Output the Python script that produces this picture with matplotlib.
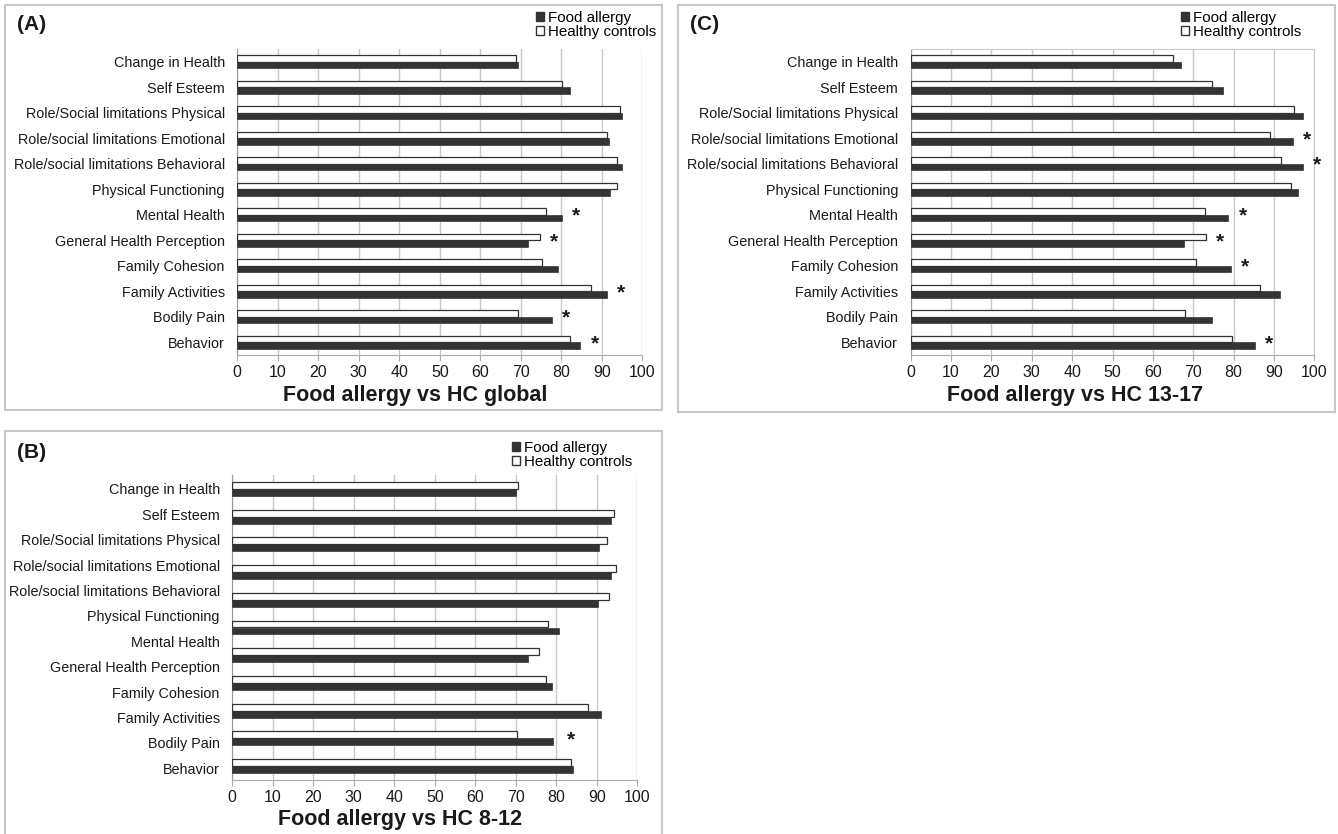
import numpy as np
import matplotlib
matplotlib.use("Agg")
import matplotlib.pyplot as plt
from matplotlib.patches import Patch, Rectangle

plt.rcParams['font.family'] = ['Liberation Sans', 'DejaVu Sans']

# category labels, top to bottom
categories = ["Change in Health", "Self Esteem", "Role/Social limitations Physical",
              "Role/social limitations Emotional", "Role/social limitations Behavioral",
              "Physical Functioning", "Mental Health", "General Health Perception",
              "Family Cohesion", "Family Activities", "Bodily Pain", "Behavior"]

# (A) global
fa_global = [69.2, 82.1, 94.9, 91.8, 94.9, 92.1, 80.1, 71.7, 79.3, 91.2, 77.7, 84.7]
hc_global = [68.7, 80.1, 94.5, 91.2, 93.7, 93.7, 76.2, 74.7, 75.3, 87.3, 69.2, 82.2]
star_global = [0, 0, 0, 0, 0, 0, 1, 1, 0, 1, 1, 1]

# (C) 13-17
fa_1317 = [67.0, 77.5, 97.1, 94.6, 97.1, 96.0, 78.7, 67.8, 79.3, 91.5, 74.7, 85.3]
hc_1317 = [64.9, 74.7, 95.0, 88.9, 91.8, 94.2, 73.0, 73.2, 70.8, 86.5, 68.0, 79.6]
star_1317 = [0, 0, 0, 1, 1, 0, 1, 1, 1, 0, 0, 1]

# (B) 8-12 : only 11 bar pairs are drawn in the original figure
fa_812 = [70.0, 93.4, 90.5, 93.4, 90.4, 80.7, 73.1, 78.9, 91.0, 79.1, 84.0]
hc_812 = [70.6, 94.3, 92.4, 94.7, 93.1, 78.0, 75.7, 77.5, 87.9, 70.3, 83.6]
star_812 = [0, 0, 0, 0, 0, 0, 0, 0, 0, 1, 0]

DARK = '#333333'
GRID = '#c8c8c8'
TXT = '#1a1a1a'

fig = plt.figure(figsize=(13.38, 8.34), dpi=100)

def W(px):
    return px / 1338.0

def H(px):
    return px / 834.0

# panel frames
for x0, y0, x1, y1 in [(5, 5, 662, 410), (678, 5, 1335, 412), (5, 431, 662, 840)]:
    fig.add_artist(Rectangle((W(x0), 1 - H(y1)), W(x1 - x0), H(y1 - y0),
                             transform=fig.transFigure, fill=False,
                             edgecolor=GRID, lw=1.5))


def panel(rect, fa, hc, stars, title, tag, title_x, tag_xy, legend_xy,
          tick_pos=None, star_off=2.5, frame=False):
    ax = fig.add_axes(rect)
    n = len(fa)
    y = np.arange(n)
    bh = 0.25
    ax.barh(y - bh / 2, hc, height=bh, color='white', edgecolor=DARK, lw=0.9, zorder=3)
    ax.barh(y + bh / 2, fa, height=bh, color=DARK, edgecolor=DARK, lw=0.5, zorder=3)
    for i in range(n):
        if stars[i]:
            ax.text(max(fa[i], hc[i]) + star_off, y[i] + 0.05, '*', fontsize=15,
                    fontweight='bold', ha='left', va='center', color=TXT)
    ax.set_xlim(0, 100)
    ax.set_ylim(n - 0.5, -0.5)
    ax.set_xticks(np.arange(0, 101, 10))
    if tick_pos is None:
        tick_pos = y
    ax.set_yticks(tick_pos)
    ax.set_yticklabels(categories, fontsize=10.4, color=TXT)
    ax.tick_params(axis='y', length=0, pad=9)
    ax.tick_params(axis='x', length=4, color='#aaaaaa', labelsize=11.5,
                   labelcolor=TXT, pad=3)
    ax.grid(axis='x', color=GRID, lw=1, zorder=0)
    for s in ['top', 'right']:
        ax.spines[s].set_visible(frame)
        ax.spines[s].set_color(GRID)
    ax.spines['left'].set_color('#999999')
    ax.spines['bottom'].set_color('#aaaaaa')
    ax.set_axisbelow(True)

    fig.text(title_x, rect[1] - H(40), title, fontsize=15.5, fontweight='bold',
             ha='center', va='center', color=TXT)
    fig.text(tag_xy[0], tag_xy[1], tag, fontsize=15, fontweight='bold',
             ha='left', va='center', color=TXT)
    handles = [Patch(facecolor=DARK, edgecolor=DARK, label='Food allergy'),
               Patch(facecolor='white', edgecolor=DARK, label='Healthy controls')]
    fig.legend(handles=handles, loc='upper left', bbox_to_anchor=legend_xy,
               frameon=False, fontsize=10.9, handlelength=0.55, handleheight=0.55,
               handletextpad=0.25, labelspacing=0.0, borderpad=0, borderaxespad=0)
    return ax


panel([W(237.3), H(834 - 355), W(405), H(306)], fa_global, hc_global, star_global,
      'Food allergy vs HC global', '(A)', W(415), (W(17), 1 - H(24)),
      (W(536), 1 - H(11)))

panel([W(910.7), H(834 - 355), W(403.6), H(306)], fa_1317, hc_1317, star_1317,
      'Food allergy vs HC 13-17', '(C)', W(1075), (W(690), 1 - H(24)),
      (W(1181), 1 - H(11)), frame=True)

# 12 labels are spread over 11 bar slots in panel B
b_ticks = np.arange(12) * 10.08 / 11
panel([W(232.3), H(834 - 780), W(405), H(305)], fa_812, hc_812, star_812,
      'Food allergy vs HC 8-12', '(B)', W(400), (W(17), 1 - H(453)),
      (W(512), 1 - H(441)), tick_pos=b_ticks, star_off=3.5)

fig.savefig('out.png', dpi=100)
